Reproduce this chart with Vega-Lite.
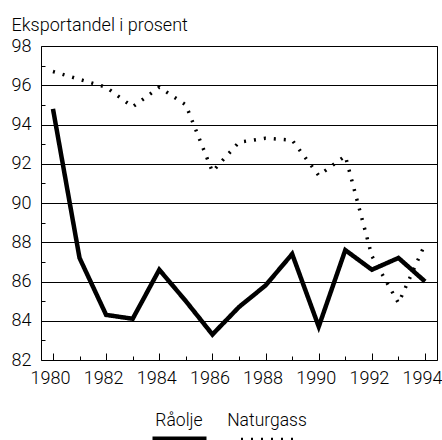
{
  "$schema": "https://vega.github.io/schema/vega-lite/v6.json",
  "width": 396,
  "height": 314,
  "autosize": {"type": "none"},
  "padding": {"left": 41, "top": 46, "right": 5, "bottom": 80},
  "background": "white",
  "config": {
    "view": {"stroke": "black", "strokeWidth": 1},
    "font": "Roboto",
    "axis": {"labelFont": "Roboto", "labelFontWeight": 300, "labelColor": "black", "labelFontSize": 18, "domain": false},
    "legend": {"labelFont": "Roboto", "labelFontWeight": 300, "labelColor": "black", "labelFontSize": 17.5}
  },
  "data": {
    "values": [
      {"year": 1980, "series": "Råolje", "value": 94.8},
      {"year": 1981, "series": "Råolje", "value": 87.2},
      {"year": 1982, "series": "Råolje", "value": 84.3},
      {"year": 1983, "series": "Råolje", "value": 84.1},
      {"year": 1984, "series": "Råolje", "value": 86.6},
      {"year": 1985, "series": "Råolje", "value": 85.0},
      {"year": 1986, "series": "Råolje", "value": 83.3},
      {"year": 1987, "series": "Råolje", "value": 84.7},
      {"year": 1988, "series": "Råolje", "value": 85.8},
      {"year": 1989, "series": "Råolje", "value": 87.4},
      {"year": 1990, "series": "Råolje", "value": 83.7},
      {"year": 1991, "series": "Råolje", "value": 87.6},
      {"year": 1992, "series": "Råolje", "value": 86.6},
      {"year": 1993, "series": "Råolje", "value": 87.2},
      {"year": 1994, "series": "Råolje", "value": 86.0},
      {"year": 1980, "series": "Naturgass", "value": 96.7},
      {"year": 1981, "series": "Naturgass", "value": 96.3},
      {"year": 1982, "series": "Naturgass", "value": 95.9},
      {"year": 1983, "series": "Naturgass", "value": 94.9},
      {"year": 1984, "series": "Naturgass", "value": 95.9},
      {"year": 1985, "series": "Naturgass", "value": 95.0},
      {"year": 1986, "series": "Naturgass", "value": 91.6},
      {"year": 1987, "series": "Naturgass", "value": 93.1},
      {"year": 1988, "series": "Naturgass", "value": 93.3},
      {"year": 1989, "series": "Naturgass", "value": 93.2},
      {"year": 1990, "series": "Naturgass", "value": 91.4},
      {"year": 1991, "series": "Naturgass", "value": 92.4},
      {"year": 1992, "series": "Naturgass", "value": 87.3},
      {"year": 1993, "series": "Naturgass", "value": 84.9},
      {"year": 1994, "series": "Naturgass", "value": 87.9}
    ]
  },
  "mark": {"type": "line", "color": "black", "strokeCap": "butt"},
  "encoding": {
    "x": {
      "field": "year",
      "type": "quantitative",
      "scale": {"domain": [1979.55, 1994.45], "nice": false, "zero": false},
      "axis": {
        "title": null,
        "values": [1980, 1981, 1982, 1983, 1984, 1985, 1986, 1987, 1988, 1989, 1990, 1991, 1992, 1993, 1994],
        "labelExpr": "datum.value % 2 == 0 ? datum.label : ''",
        "format": "d",
        "grid": false,
        "tickColor": "black",
        "tickSize": {"condition": {"test": "datum.value % 2 == 0", "value": -7}, "value": -4},
        "labelPadding": 16,
        "labelOffset": -3,
        "labelFlush": false,
        "labelOverlap": false
      }
    },
    "y": {
      "field": "value",
      "type": "quantitative",
      "scale": {"domain": [82, 98], "nice": false, "zero": false},
      "axis": {
        "title": "Eksportandel i prosent",
        "titleAngle": 0,
        "titleAlign": "left",
        "titleBaseline": "alphabetic",
        "titleX": -30,
        "titleY": -16,
        "titleFont": "Roboto",
        "titleFontSize": 18,
        "titleFontWeight": 300,
        "titleColor": "black",
        "values": [82, 83, 84, 85, 86, 87, 88, 89, 90, 91, 92, 93, 94, 95, 96, 97, 98],
        "labelExpr": "datum.value % 2 == 0 ? datum.label : ''",
        "grid": true,
        "gridColor": "black",
        "gridOpacity": {"condition": {"test": "datum.value % 2 == 0", "value": 1}, "value": 0},
        "tickColor": "black",
        "tickSize": {"condition": {"test": "datum.value % 2 == 0", "value": 0}, "value": -4},
        "labelPadding": 10,
        "labelOverlap": false
      }
    },
    "strokeDash": {
      "field": "series",
      "type": "nominal",
      "scale": {"domain": ["Råolje", "Naturgass"], "range": [[1, 0], [2, 8]]},
      "legend": {
        "title": null,
        "orient": "none",
        "direction": "horizontal",
        "legendX": 109,
        "legendY": 345,
        "symbolType": "M-1,0.667H1",
        "symbolSize": 2916,
        "symbolStrokeColor": "black",
        "symbolFillColor": "transparent",
        "labelAlign": "center",
        "labelOffset": -30,
        "labelBaseline": "middle",
        "columnPadding": 11
      }
    },
    "strokeWidth": {
      "field": "series",
      "type": "nominal",
      "scale": {"type": "ordinal", "domain": ["Råolje", "Naturgass"], "range": [4.5, 3.5]},
      "legend": null
    }
  }
}
